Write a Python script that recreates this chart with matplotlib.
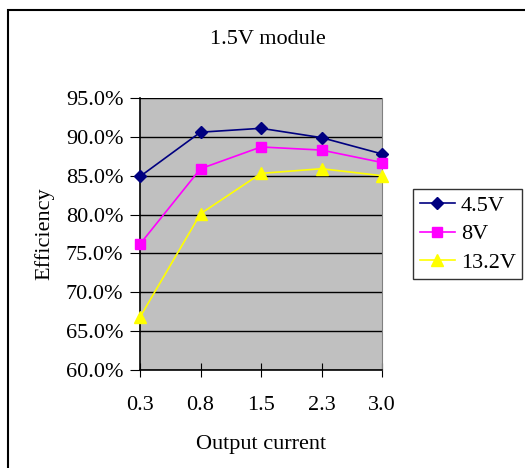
import matplotlib.pyplot as plt
from matplotlib.patches import Rectangle
from matplotlib.ticker import FuncFormatter

plt.rcParams['font.family'] = ['Liberation Serif', 'DejaVu Serif']

currents = ['0.3', '0.8', '1.5', '2.3', '3.0']
eff_45 = [84.9, 90.6, 91.1, 89.9, 87.8]
eff_8 = [76.2, 85.9, 88.7, 88.3, 86.7]
eff_132 = [66.8, 80.1, 85.3, 85.9, 85.0]

fig = plt.figure(figsize=(5.25, 4.68), dpi=100)
fig.patch.set_facecolor('white')
# outer chart border (only left/top visible in the crop)
fig.patches.append(Rectangle((8 / 525, -0.05), 1.2, 1 - 10 / 468 + 0.05,
                             transform=fig.transFigure, fill=False,
                             edgecolor='black', linewidth=1.5))

ax = fig.add_axes([140 / 525, 1 - 370 / 468, 242 / 525, 272 / 468])
ax.set_facecolor('#c0c0c0')
x = range(len(currents))
ax.plot(x, eff_45, color='#000080', marker='D', markersize=6, linewidth=1.2, label='4.5V', clip_on=False, zorder=5)
ax.plot(x, eff_8, color='#ff00ff', marker='s', markersize=7, linewidth=1.2, label='8V', clip_on=False, zorder=5)
ax.plot(x, eff_132, color='#ffff00', marker='^', markersize=8, linewidth=1.2, label='13.2V', clip_on=False, zorder=5)

ax.set_xlim(0, 4)
ax.set_ylim(60, 95)
ax.set_xticks(list(x))
ax.set_xticklabels(currents)
ax.set_yticks(range(60, 96, 5))
ax.yaxis.set_major_formatter(FuncFormatter(lambda v, p: '%.1f%%' % v))
ax.grid(axis='y', color='black', linewidth=1)
ax.set_axisbelow(True)
ax.tick_params(axis='y', direction='out', length=7, labelsize=16, pad=5)
ax.tick_params(axis='x', direction='inout', length=10, labelsize=16, pad=14)
ax.spines['top'].set_visible(False)
ax.spines['right'].set_color('#808080')
ax.spines['left'].set_linewidth(1.2)
ax.spines['bottom'].set_linewidth(1.2)

ax.set_ylabel('Efficiency', fontsize=16, labelpad=8)
ax.set_xlabel('Output current', fontsize=16, labelpad=14)
fig.text(268 / 525, 1 - 40 / 468, '1.5V module', ha='center', va='center', fontsize=16)

leg = ax.legend(loc='center left', bbox_to_anchor=(413 / 525, 1 - 234 / 468),
                bbox_transform=fig.transFigure, fontsize=16, frameon=True,
                fancybox=False, edgecolor='black', borderpad=0.3,
                handlelength=1.6, handletextpad=0.25, labelspacing=0.35,
                borderaxespad=0)
leg.get_frame().set_linewidth(1)

fig.savefig('out.png', dpi=100)
